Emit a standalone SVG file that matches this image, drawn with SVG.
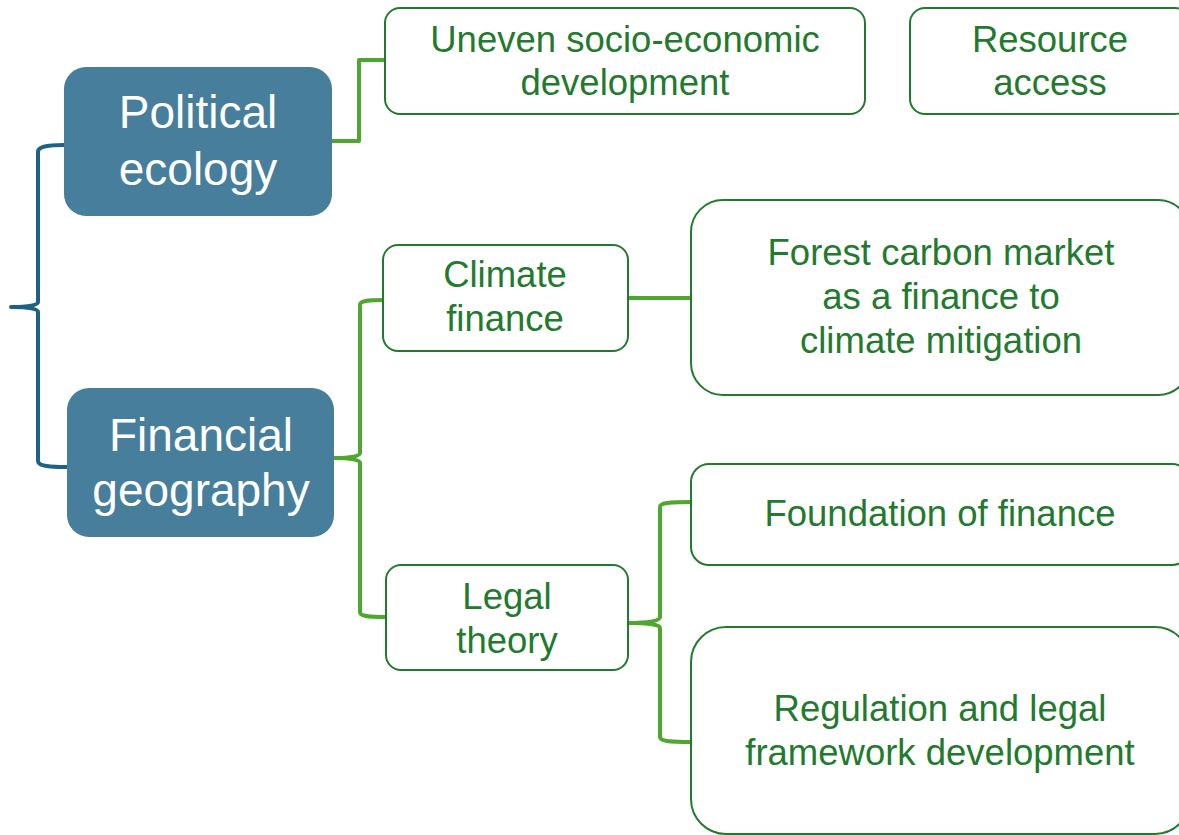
<svg xmlns="http://www.w3.org/2000/svg" width="1179" height="835" viewBox="0 0 1179 835">
<style>
.main rect{fill:#467E9B;}
.main text{fill:#ffffff;font-family:"Liberation Sans",Arial,sans-serif;font-size:46px;text-anchor:middle;}
.sub rect{fill:#ffffff;stroke:#237A2E;stroke-width:2;}
.sub text{fill:#237A2E;font-family:"Liberation Sans",Arial,sans-serif;font-size:36.5px;text-anchor:middle;}
.green{fill:none;stroke:#4EA72E;stroke-width:4;stroke-linejoin:round;}
.blue{fill:none;stroke:#1D6183;stroke-width:4;stroke-linejoin:round;}
</style>
<rect width="1179" height="835" fill="#ffffff"/>
<g id="connectors">
<path class="blue" d="M64,145 C45,145 38,147 38,152 L38,302 Q38,307 11,307 Q38,307 38,312 L38,461 C38,465 45,467 67,467"/>
<path class="green" d="M332,141 L359,141 L359,60 L385,60"/>
<path class="green" d="M384,300 C366,300 360,301 360,305 L360,453 Q360,458 334,458 Q360,458 360,463 L360,612 C360,616 366,617 386,617"/>
<path class="green" d="M628,298 L691,298"/>
<path class="green" d="M692,502 C668,502 660,503 660,507 L660,617 Q660,623 628,623 Q660,623 660,628 L660,737 C660,741 668,742 691,742"/>
</g>
<g id="political-ecology" class="main">
<rect x="64" y="67" width="268" height="149" rx="22"/>
<text x="198" y="128">Political</text>
<text x="198" y="185">ecology</text>
</g>
<g id="financial-geography" class="main">
<rect x="67" y="388" width="267" height="149" rx="22"/>
<text x="201" y="451">Financial</text>
<text x="201" y="506">geography</text>
</g>
<g id="uneven" class="sub">
<rect x="385" y="8" width="480" height="106" rx="15"/>
<text x="625" y="52">Uneven socio-economic</text>
<text x="625" y="95">development</text>
</g>
<g id="resource" class="sub">
<rect x="910" y="8" width="280" height="106" rx="15"/>
<text x="1050" y="52">Resource</text>
<text x="1050" y="95">access</text>
</g>
<g id="climate-finance" class="sub">
<rect x="383" y="245" width="245" height="106" rx="15"/>
<text x="505" y="287">Climate</text>
<text x="505" y="331">finance</text>
</g>
<g id="forest-carbon" class="sub">
<rect x="691" y="200" width="499" height="195" rx="32"/>
<text x="941" y="265">Forest carbon market</text>
<text x="941" y="309">as a finance to</text>
<text x="941" y="353">climate mitigation</text>
</g>
<g id="legal-theory" class="sub">
<rect x="386" y="565" width="242" height="105" rx="15"/>
<text x="507" y="609">Legal</text>
<text x="507" y="653">theory</text>
</g>
<g id="foundation" class="sub">
<rect x="691" y="464" width="499" height="101" rx="18"/>
<text x="940" y="526">Foundation of finance</text>
</g>
<g id="regulation" class="sub">
<rect x="691" y="627" width="499" height="207" rx="35"/>
<text x="940" y="721">Regulation and legal</text>
<text x="940" y="765">framework development</text>
</g>
</svg>
